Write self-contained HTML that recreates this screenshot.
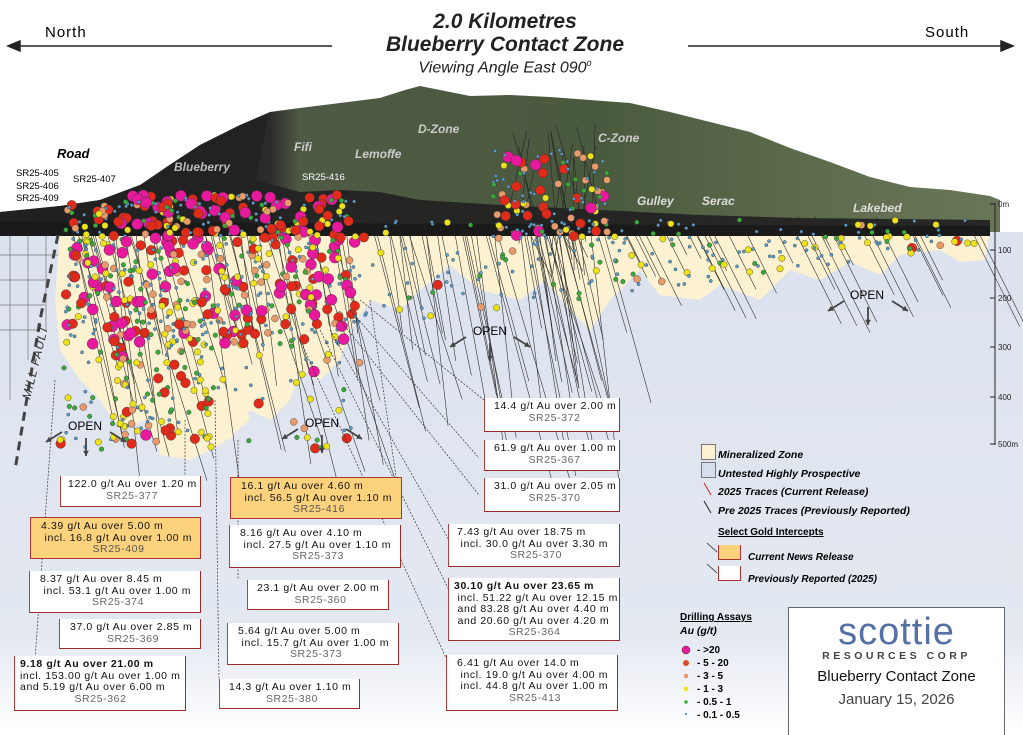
<!DOCTYPE html>
<html><head><meta charset="utf-8">
<style>
html,body{margin:0;padding:0;background:#fff}
#w{position:relative;width:1023px;height:735px;overflow:hidden;font-family:"Liberation Sans",sans-serif}
svg{position:absolute;left:0;top:0}
.b{position:absolute;background:#fff;border:1.5px solid #9e2a2a;border-top:none;border-left-color:#b04040;box-sizing:border-box;font-size:10.5px;letter-spacing:.6px;color:#111;line-height:11.5px;padding:3px 4px;white-space:nowrap}
.o{background:#fcd27c;border:1.5px solid #a33}
.b .id{color:#666;text-align:center;display:block}
.t{position:absolute;white-space:nowrap}
</style></head><body><div id="w">
<svg width="1023" height="735" viewBox="0 0 1023 735" id="s">
<defs>
<linearGradient id="bg" x1="0" y1="0" x2="0" y2="1">
<stop offset="0" stop-color="#dce2ee"/><stop offset=".8" stop-color="#e3e8f1"/><stop offset="1" stop-color="#ffffff"/></linearGradient>
<linearGradient id="mt" x1="0" y1="0" x2="1" y2="0">
<stop offset="0" stop-color="#1e1e1e"/><stop offset=".27" stop-color="#2b2b2b"/><stop offset=".3" stop-color="#4f5a44"/><stop offset=".6" stop-color="#4a5a3e"/><stop offset=".8" stop-color="#5d6b4c"/><stop offset="1" stop-color="#6a7658"/></linearGradient>
</defs>
<rect x="0" y="232" width="1023" height="503" fill="url(#bg)"/>
<g stroke="#777" stroke-width=".7">
<line x1="0" y1="255" x2="60" y2="255"/><line x1="0" y1="280" x2="50" y2="280"/><line x1="0" y1="305" x2="45" y2="305"/><line x1="0" y1="330" x2="40" y2="330"/>
<line x1="10" y1="232" x2="10" y2="400"/><line x1="28" y1="232" x2="28" y2="360"/><line x1="46" y1="232" x2="46" y2="330"/></g>
<path fill="#fcf2d2" d="M60 232 L990 232 L985 260 L960 262 L940 250 L900 255 L880 275 L850 262 L820 280 L790 270 L760 300 L720 285 L700 300 L660 295 L640 270 L610 300 L590 330 L570 310 L545 280 L520 300 L480 290 L450 265 L420 290 L400 310 L370 300 L350 330 L340 360 L320 380 L300 370 L290 400 L270 420 L250 410 L230 440 L210 430 L190 455 L160 450 L145 420 L120 430 L100 400 L80 380 L60 350 L55 300 Z"/>
<path fill="#fcf2d2" d="M150 400 L200 380 L240 390 L250 420 L220 445 L190 460 L160 455 Z"/>
<path fill="url(#mt)" d="M0 232 L0 212 L60 206 L100 200 L140 185 L165 168 L200 145 L240 125 L270 112 L300 108 L340 103 L380 98 L405 90 L420 86 L440 90 L470 96 L510 95 L550 97 L590 100 L630 103 L670 112 L710 122 L750 132 L790 148 L830 162 L870 177 L910 187 L950 190 L990 196 L1000 200 L1000 232 Z"/>
<path fill="#222" d="M0 212 L60 206 L100 200 L140 185 L160 175 L165 168 L200 145 L240 125 L268 115 L262 150 L255 180 L300 192 L340 190 L380 192 L420 200 L500 205 L600 210 L700 215 L800 218 L990 220 L990 235 L0 235 Z" opacity=".92"/>
<path fill="#1a1a1a" d="M0 222 L990 226 L990 236 L0 236Z"/>
<g stroke="#222" stroke-width="1" font-size="8" fill="#222">
<line x1="995" y1="203" x2="995" y2="445"/>
<line x1="990" y1="204" x2="995" y2="204"/><line x1="990" y1="250" x2="995" y2="250"/><line x1="990" y1="298" x2="995" y2="298"/><line x1="990" y1="347" x2="995" y2="347"/><line x1="990" y1="397" x2="995" y2="397"/><line x1="990" y1="444" x2="995" y2="444"/>
<text x="998" y="207" stroke="none">0m</text><text x="998" y="253" stroke="none">100</text><text x="998" y="301" stroke="none">200</text><text x="998" y="350" stroke="none">300</text><text x="998" y="400" stroke="none">400</text><text x="998" y="447" stroke="none">500m</text></g>
<g id="tr" stroke="#222" stroke-width=".55" fill="none"></g>
<g id="dt" stroke="#333" stroke-width=".4"></g>
<path d="M58 235 L40 320 L15 470" stroke="#444" stroke-width="3" stroke-dasharray="9 6" fill="none"/>
<text x="0" y="0" transform="translate(30,400) rotate(-76)" font-size="12" font-style="italic" fill="#333" letter-spacing="1">MILL FAULT</text>
<g stroke="#222" stroke-width="1.5" fill="#222">
<line x1="14" y1="46" x2="332" y2="46"/><path d="M8 46 L20 41 L20 51Z"/>
<line x1="688" y1="46" x2="1006" y2="46"/><path d="M1013 46 L1001 41 L1001 51Z"/></g>
<g stroke="#444" stroke-width="1.8" fill="#444" id="op"></g>
<g stroke="#333" stroke-width=".7" stroke-dasharray="2 1.5" fill="none">
<line x1="360" y1="300" x2="484" y2="400"/><line x1="350" y1="310" x2="479" y2="458"/><line x1="340" y1="320" x2="479" y2="495"/><line x1="330" y1="330" x2="449" y2="540"/><line x1="320" y1="330" x2="449" y2="590"/><line x1="300" y1="340" x2="447" y2="660"/><line x1="370" y1="300" x2="401" y2="510"/>
<line x1="215" y1="400" x2="219" y2="680"/><line x1="238" y1="440" x2="238" y2="580"/><line x1="55" y1="380" x2="35" y2="660"/><line x1="185" y1="420" x2="185" y2="480"/></g>
</svg>

<div class="t" style="left:0;width:1010px;text-align:center;top:10px;font-size:21px;font-weight:bold;font-style:italic;color:#222;line-height:23px">2.0 Kilometres<br>Blueberry Contact Zone</div>
<div class="t" style="left:0;width:1010px;text-align:center;top:58px;font-size:16px;font-style:italic;color:#222">Viewing Angle East 090<sup style="font-size:9px">o</sup></div>
<div class="t" style="left:45px;top:24px;font-size:15px;letter-spacing:1px">North</div>
<div class="t" style="left:925px;top:24px;font-size:15px;letter-spacing:1px">South</div>

<div class="t" style="left:57px;top:146px;font-size:13px;font-weight:bold;font-style:italic">Road</div>
<div class="t" style="left:16px;top:168px;font-size:9.5px;line-height:12.5px">SR25-405<br>SR25-406<br>SR25-409</div>
<div class="t" style="left:73px;top:174px;font-size:9.5px">SR25-407</div>
<div class="t" style="left:302px;top:172px;font-size:9.5px;color:#fff">SR25-416</div>
<div class="t" style="left:174px;top:160px;font-size:12px;font-weight:bold;font-style:italic;color:#bbb">Blueberry</div>
<div class="t" style="left:294px;top:140px;font-size:12px;font-weight:bold;font-style:italic;color:#ccc">Fifi</div>
<div class="t" style="left:355px;top:147px;font-size:12px;font-weight:bold;font-style:italic;color:#ccc">Lemoffe</div>
<div class="t" style="left:418px;top:122px;font-size:12px;font-weight:bold;font-style:italic;color:#ccc">D-Zone</div>
<div class="t" style="left:598px;top:131px;font-size:12px;font-weight:bold;font-style:italic;color:#ccc">C-Zone</div>
<div class="t" style="left:637px;top:194px;font-size:12px;font-weight:bold;font-style:italic;color:#ddd">Gulley</div>
<div class="t" style="left:702px;top:194px;font-size:12px;font-weight:bold;font-style:italic;color:#ddd">Serac</div>
<div class="t" style="left:853px;top:201px;font-size:12px;font-weight:bold;font-style:italic;color:#ddd">Lakebed</div>

<div class="t" style="left:68px;top:419px;font-size:12px">OPEN</div>
<div class="t" style="left:305px;top:416px;font-size:12px">OPEN</div>
<div class="t" style="left:473px;top:324px;font-size:12px">OPEN</div>
<div class="t" style="left:850px;top:288px;font-size:12px">OPEN</div>

<div class="b" style="left:60px;top:476px;width:141px;height:31px;padding-left:7px">122.0 g/t Au over 1.20 m<span class="id">SR25-377</span></div>
<div class="b o" style="left:30px;top:517px;width:171px;height:42px;padding-left:10px">4.39 g/t Au over 5.00 m<br>&nbsp;incl. 16.8 g/t Au over 1.00 m<span class="id" style="color:#555">SR25-409</span></div>
<div class="b" style="left:29px;top:571px;width:172px;height:42px;padding-left:10px">8.37 g/t Au over 8.45 m<br>&nbsp;incl. 53.1 g/t Au over 1.00 m<span class="id">SR25-374</span></div>
<div class="b" style="left:59px;top:619px;width:142px;height:30px;padding-left:10px">37.0 g/t Au over 2.85 m<span class="id">SR25-369</span></div>
<div class="b" style="left:14px;top:656px;width:172px;height:55px;padding-left:5px"><b>9.18 g/t Au over 21.00 m</b><br>incl. 153.00 g/t Au over 1.00 m<br>and 5.19 g/t Au over 6.00 m<span class="id">SR25-362</span></div>
<div class="b o" style="left:230px;top:477px;width:172px;height:42px;padding-left:10px">16.1 g/t Au over 4.60 m<br>&nbsp;incl. 56.5 g/t Au over 1.10 m<span class="id" style="color:#555">SR25-416</span></div>
<div class="b" style="left:229px;top:525px;width:172px;height:43px;padding-left:10px">8.16 g/t Au over 4.10 m<br>&nbsp;incl. 27.5 g/t Au over 1.10 m<span class="id">SR25-373</span></div>
<div class="b" style="left:247px;top:580px;width:142px;height:30px;padding-left:9px">23.1 g/t Au over 2.00 m<span class="id">SR25-360</span></div>
<div class="b" style="left:227px;top:623px;width:172px;height:42px;padding-left:10px">5.64 g/t Au over 5.00 m<br>&nbsp;incl. 15.7 g/t Au over 1.00 m<span class="id">SR25-373</span></div>
<div class="b" style="left:219px;top:679px;width:141px;height:30px;padding-left:9px">14.3 g/t Au over 1.10 m<span class="id">SR25-380</span></div>

<div class="b" style="left:484px;top:398px;width:136px;height:34px;padding-left:9px">14.4 g/t Au over 2.00 m<span class="id">SR25-372</span></div>
<div class="b" style="left:484px;top:440px;width:136px;height:31px;padding-left:9px">61.9 g/t Au over 1.00 m<span class="id">SR25-367</span></div>
<div class="b" style="left:484px;top:478px;width:136px;height:34px;padding-left:9px">31.0 g/t Au over 2.05 m<span class="id">SR25-370</span></div>
<div class="b" style="left:448px;top:524px;width:172px;height:43px;padding-left:8px">7.43 g/t Au over 18.75 m<br>&nbsp;incl. 30.0 g/t Au over 3.30 m<span class="id">SR25-370</span></div>
<div class="b" style="left:448px;top:578px;width:172px;height:63px;padding-left:5px"><b>30.10 g/t Au over 23.65 m</b><br>&nbsp;incl. 51.22 g/t Au over 12.15 m<br>&nbsp;and 83.28 g/t Au over 4.40 m<br>&nbsp;and 20.60 g/t Au over 4.20 m<span class="id">SR25-364</span></div>
<div class="b" style="left:446px;top:655px;width:172px;height:56px;padding-left:10px">6.41 g/t Au over 14.0 m<br>&nbsp;incl. 19.0 g/t Au over 4.00 m<br>&nbsp;incl. 44.8 g/t Au over 1.00 m<span class="id">SR25-413</span></div>

<div class="t" style="left:701px;top:444px;width:13px;height:14px;background:#fcf2d2;border:1px solid #777"></div>
<div class="t" style="left:701px;top:462px;width:13px;height:14px;background:#d6dfec;border:1px solid #777"></div>
<svg width="1023" height="735" style="pointer-events:none"><line x1="704" y1="483" x2="711" y2="495" stroke="#c22" stroke-width="1"/><line x1="704" y1="501" x2="711" y2="513" stroke="#222" stroke-width="1"/><line x1="707" y1="543" x2="717" y2="552" stroke="#222" stroke-width=".8"/><line x1="707" y1="564" x2="717" y2="573" stroke="#222" stroke-width=".8"/>
<circle cx="686" cy="650" r="4" fill="#e8199c" stroke="#333" stroke-width=".5"/><circle cx="686" cy="663" r="3" fill="#e04a2a"/><circle cx="686" cy="676" r="2.3" fill="#e89a6a"/><circle cx="686" cy="689" r="2.3" fill="#ece11a"/><circle cx="686" cy="702" r="1.8" fill="#3aaa3a"/><circle cx="686" cy="714" r="1.2" fill="#5aa0d0"/></svg>
<div class="t" style="left:718px;top:446px;font-size:10.5px;font-weight:bold;font-style:italic;line-height:18.5px">Mineralized Zone<br>Untested Highly Prospective<br>2025 Traces (Current Release)<br>Pre 2025 Traces (Previously Reported)</div>
<div class="t" style="left:718px;top:527px;font-size:10px;font-weight:bold;text-decoration:underline">Select Gold Intercepts</div>
<div class="t" style="left:718px;top:545px;width:21px;height:14px;background:#fcd27c;border:1px solid #a33;border-top:none"></div>
<div class="t" style="left:718px;top:566px;width:21px;height:14px;background:#fff;border:1px solid #a33;border-top:none"></div>
<div class="t" style="left:748px;top:547px;font-size:10px;font-weight:bold;font-style:italic;line-height:22px">Current News Release<br>Previously Reported (2025)</div>
<div class="t" style="left:680px;top:612px;font-size:10px;font-weight:bold;text-decoration:underline">Drilling Assays</div>
<div class="t" style="left:680px;top:625px;font-size:10.5px;font-weight:bold;font-style:italic">Au (g/t)</div>
<div class="t" style="left:697px;top:644px;font-size:10px;font-weight:bold;line-height:13px">- &gt;20<br>- 5 - 20<br>- 3 - 5<br>- 1 - 3<br>- 0.5 - 1<br>- 0.1 - 0.5</div>

<div class="t" style="left:788px;top:607px;width:215px;height:140px;border:1px solid #666;background:#fff;text-align:center">
<div style="font-size:38px;color:#5470a5;letter-spacing:1px;margin-top:4px;line-height:40px">scottie</div>
<div style="font-size:10.5px;font-weight:bold;letter-spacing:3.5px;color:#444;margin-top:-2px">RESOURCES CORP</div>
<div style="font-size:15px;color:#111;margin-top:6px">Blueberry Contact Zone</div>
<div style="font-size:15px;color:#444;margin-top:6px;font-weight:300">January 15, 2026</div>
</div>
</div>
<script>
(function(){
var s=12345;function r(){s=(s*16807)%2147483647;return s/2147483647;}
var NS="http://www.w3.org/2000/svg";
var tr=document.getElementById('tr'),dt=document.getElementById('dt');
function el(p,n,a){var e=document.createElementNS(NS,n);for(var k in a)e.setAttribute(k,a[k]);p.appendChild(e);return e;}
for(var i=0;i<95;i++){var x=60+r()*540,y=205+r()*25,L=100+r()*170,dx=0.2+r()*0.5;
el(tr,'line',{x1:x,y1:y,x2:x+L*dx*0.5,y2:y+L});}
for(var i=0;i<35;i++){var x=520+r()*460,y=215+r()*15,L=30+r()*80;el(tr,'line',{x1:x,y1:y,x2:x+L*0.5,y2:y+L});}
for(var i=0;i<18;i++){var x=495+r()*110,y=120+r()*40;el(tr,'line',{x1:x,y1:y,x2:x+(r()-.5)*60,y2:y+80+r()*50});}
var cols=[['#e8199c',5.5],['#e02a1a',4.8],['#e89a6a',3.5],['#ece11a',3.2],['#3aaa3a',2.3],['#5aa0d0',1.6]];
function dot(x,y,w){var a=r(),c;var acc=0;for(var j=0;j<6;j++){acc+=w[j];if(a<acc){c=cols[j];break;}}if(!c)c=cols[5];
el(dt,'circle',{cx:x,cy:y,r:c[1],fill:c[0]});}
var wMain=[.18,.17,.08,.14,.12,.31];
for(var i=0;i<650;i++){var x=65+r()*290,y=195+Math.pow(r(),1.3)*150;if(x<120)y=205+r()*140;dot(x,y,wMain);}
for(var i=0;i<120;i++){var x=110+r()*110,y=300+r()*140;dot(x,y,[.04,.1,.08,.3,.2,.28]);}
for(var i=0;i<120;i++){dot(490+r()*120,150+r()*90,[.06,.2,.1,.14,.1,.4]);}
for(var i=0;i<220;i++){var x=355+r()*620,y=220+r()*110*(1-(x-355)/800);dot(x,y,[.0,.03,.04,.18,.15,.6]);}
for(var i=0;i<90;i++){var x=60+r()*300,y=340+r()*110;dot(x,y,[.02,.08,.08,.3,.22,.3]);}
var op=document.getElementById('op');
function arr(x1,y1,x2,y2){el(op,'line',{x1:x1,y1:y1,x2:x2,y2:y2});var a=Math.atan2(y2-y1,x2-x1),h=6;
el(op,'path',{d:'M'+x2+' '+y2+' L'+(x2-h*Math.cos(a-.5))+' '+(y2-h*Math.sin(a-.5))+' L'+(x2-h*Math.cos(a+.5))+' '+(y2-h*Math.sin(a+.5))+'Z',stroke:'none'});}
[[86,432],[322,429],[490,337],[868,301]].forEach(function(p){var x=p[0],y=p[1];arr(x-24,y,x-40,y+10);arr(x+24,y,x+40,y+10);arr(x,y+6,x,y+24);});
})();
</script>
</body></html>
